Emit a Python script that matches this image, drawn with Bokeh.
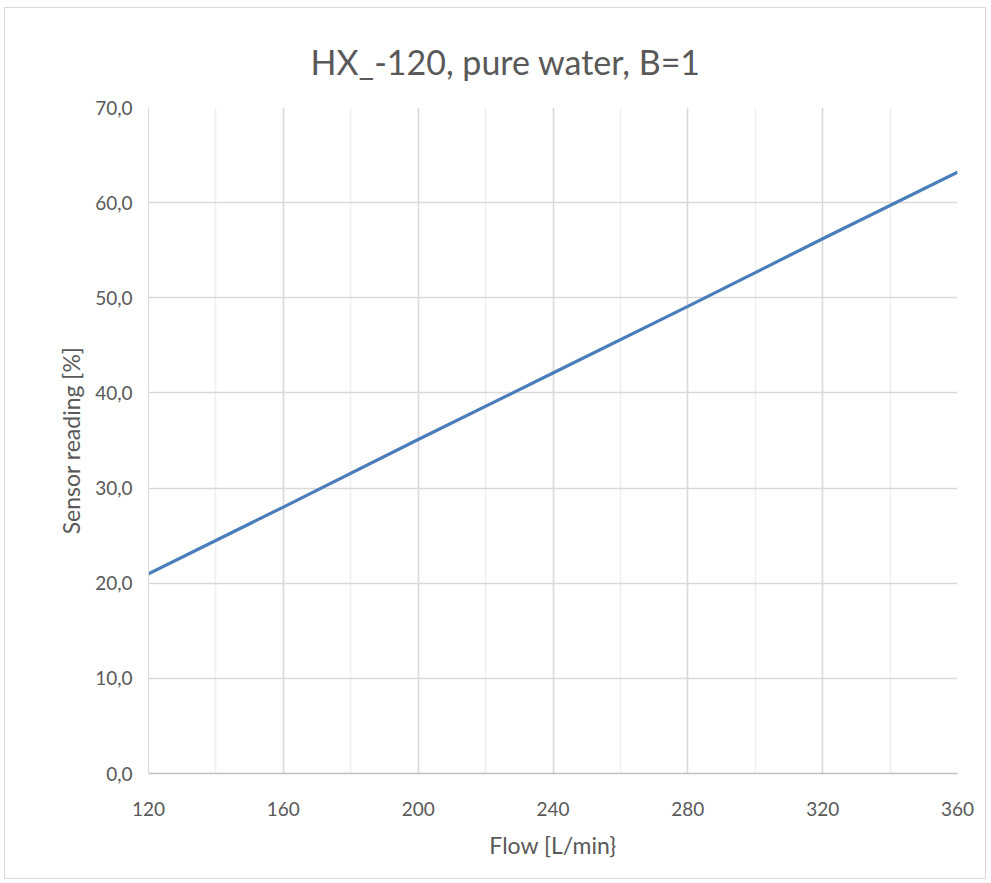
from bokeh.plotting import figure
from bokeh.models import SingleIntervalTicker, CustomJSTickFormatter, Range1d, Title
from bokeh.embed import file_html
from bokeh.resources import INLINE

flow = [120, 160, 200, 240, 280, 320, 360]
reading = [21.0, 28.0, 35.1, 42.1, 49.1, 56.2, 63.2]

x_ticks_interval = 40
y_ticks_interval = 10

FONT = "Lato"
GRAY = "#595959"

p = figure(
    width=980, height=870,
    frame_width=809, frame_height=666,
    x_range=Range1d(120, 360), y_range=Range1d(0, 70),
    output_backend="svg", toolbar_location=None,
    min_border_left=143, min_border_top=99, min_border_right=28, min_border_bottom=105,
)
p.margin = (7, 0, 0, 4)
p.styles = {"border": "1px solid #d9d9d9"}
p.outline_line_color = None

t = Title(text="HX_-120, pure water, B=1", align="left", text_font=FONT,
          text_font_size="34px", text_font_style="normal", text_color=GRAY,
          standoff=52, offset=162)
p.title = t

p.line(flow, reading, line_color="#4a7ebb", line_width=3.2)

p.xaxis.ticker = SingleIntervalTicker(interval=x_ticks_interval, num_minor_ticks=2)
p.yaxis.ticker = SingleIntervalTicker(interval=y_ticks_interval, num_minor_ticks=0)
p.yaxis.formatter = CustomJSTickFormatter(code="return tick.toFixed(1).replace('.', ',');")

for ax in (p.xaxis, p.yaxis):
    ax.major_tick_line_color = None
    ax.minor_tick_line_color = None
    ax.major_label_text_font = FONT
    ax.major_label_text_font_size = "19px"
    ax.major_label_text_color = GRAY
    ax.axis_label_text_font = FONT
    ax.axis_label_text_font_size = "23px"
    ax.axis_label_text_font_style = "normal"
    ax.axis_label_text_color = GRAY

p.xaxis.axis_line_color = "#bfbfbf"
p.xaxis.axis_line_width = 1.5
p.yaxis.axis_line_color = "#d9d9d9"
p.xaxis.axis_label = "Flow [L/min}"
p.yaxis.axis_label = "Sensor reading [%]"
p.xaxis.major_label_standoff = 22
p.xaxis.axis_label_standoff = 12
p.yaxis.major_label_standoff = 10
p.yaxis.axis_label_standoff = 7

p.xgrid.grid_line_color = "#d9d9d9"
p.xgrid.grid_line_width = 1.5
p.xgrid.minor_grid_line_color = "#efefef"
p.xgrid.minor_grid_line_width = 1.5
p.ygrid.grid_line_color = "#d9d9d9"
p.ygrid.grid_line_width = 1.5

open("out.html", "w").write(file_html(p, INLINE))
